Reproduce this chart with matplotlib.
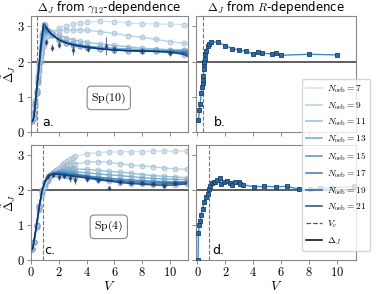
import numpy as np
import matplotlib
matplotlib.use("Agg")
import matplotlib.pyplot as plt
from matplotlib.lines import Line2D
from matplotlib.ticker import FuncFormatter

plt.rcParams['mathtext.fontset'] = 'cm'
plt.rcParams['font.family'] = ['DejaVu Sans']

# --- data -------------------------------------------------------------
N_oeb = [7, 9, 11, 13, 15, 17, 19, 21]

# Sp(10), gamma_12 dependence
V_a = [0.1, 0.2, 0.3, 0.4, 0.5, 0.6, 0.7, 0.8, 0.9, 1.0, 1.25, 1.5, 2.0, 2.5,
       3.0, 3.5, 4.0, 5.0, 6.0, 7.0, 8.0, 9.0, 10.0, 11.0, 11.3]
a_vals = [
    [0.38, 0.6, 0.9, 1.1, 1.4, 1.7, 2.0, 2.25, 2.45, 2.55, 2.72, 2.82, 2.95, 3.02, 3.06, 3.1, 3.12, 3.15, 3.13, 3.1, 3.08, 3.07, 3.06, 3.05, 3.04],
    [0.35, 0.55, 0.85, 1.1, 1.42, 1.75, 2.08, 2.35, 2.55, 2.66, 2.78, 2.84, 2.88, 2.9, 2.9, 2.9, 2.89, 2.85, 2.8, 2.74, 2.69, 2.63, 2.57, 2.52, 2.5],
    [0.33, 0.5, 0.82, 1.1, 1.45, 1.8, 2.15, 2.45, 2.65, 2.75, 2.8, 2.8, 2.75, 2.68, 2.62, 2.58, 2.55, 2.5, 2.46, 2.42, 2.38, 2.36, 2.34, 2.33, 2.33],
    [0.32, 0.45, 0.8, 1.12, 1.48, 1.85, 2.22, 2.55, 2.76, 2.84, 2.82, 2.76, 2.66, 2.58, 2.52, 2.48, 2.45, 2.41, 2.38, 2.36, 2.34, 2.33, 2.32, 2.32, 2.32],
    [0.3, 0.43, 0.78, 1.15, 1.52, 1.9, 2.3, 2.62, 2.85, 2.9, 2.85, 2.76, 2.62, 2.54, 2.48, 2.44, 2.41, 2.37, 2.34, 2.32, 2.31, 2.3, 2.3, 2.29, 2.29],
    [0.3, 0.42, 0.76, 1.16, 1.55, 1.95, 2.35, 2.7, 2.93, 2.95, 2.86, 2.76, 2.62, 2.53, 2.47, 2.43, 2.4, 2.36, 2.33, 2.31, 2.3, 2.29, 2.28, 2.26, 2.25],
    [0.3, 0.4, 0.75, 1.18, 1.58, 1.98, 2.4, 2.75, 3.0, 3.0, 2.88, 2.77, 2.62, 2.53, 2.48, 2.44, 2.41, 2.36, 2.33, 2.31, 2.3, 2.29, 2.27, 2.23, 2.2],
    [0.3, 0.4, 0.75, 1.2, 1.6, 2.0, 2.45, 2.8, 3.08, 3.05, 2.9, 2.78, 2.62, 2.54, 2.49, 2.45, 2.42, 2.37, 2.33, 2.31, 2.3, 2.29, 2.27, 2.2, 2.15],
]
a_err_V = [1.1, 1.5, 2.0, 3.0, 4.1, 5.4, 6.0, 8.0, 10.0]
a_err_y = [2.55, 2.4, 2.48, 2.33, 2.37, 2.45, 2.35, 2.3, 2.25]
a_err_e = [0.08, 0.1, 0.1, 0.15, 0.1, 0.25, 0.1, 0.08, 0.1]
Vc_top = 0.42

# Sp(4), gamma_12 dependence
V_c = [0.1, 0.2, 0.4, 0.6, 0.8, 1.0, 1.2, 1.4, 1.6, 1.8, 2.0, 2.2, 2.4, 2.6,
       2.8, 3.0, 3.2, 4.0, 4.8, 5.6, 6.4, 7.2, 8.0, 8.8, 9.6, 10.4, 11.2]
c_vals = [
    [0.3, 0.5, 0.93, 1.43, 1.85, 2.1, 2.27, 2.4, 2.5, 2.58, 2.65, 2.72, 2.78, 2.84, 2.89, 2.93, 2.97, 3.05, 3.08, 3.1, 3.1, 3.11, 3.11, 3.12, 3.12, 3.12, 3.13],
    [0.3, 0.5, 0.95, 1.47, 1.92, 2.15, 2.3, 2.42, 2.5, 2.55, 2.6, 2.64, 2.68, 2.71, 2.73, 2.75, 2.76, 2.8, 2.82, 2.8, 2.76, 2.72, 2.7, 2.67, 2.64, 2.61, 2.6],
    [0.3, 0.5, 0.97, 1.5, 1.95, 2.19, 2.34, 2.44, 2.5, 2.54, 2.57, 2.59, 2.6, 2.61, 2.61, 2.61, 2.61, 2.6, 2.57, 2.54, 2.52, 2.49, 2.45, 2.42, 2.4, 2.38, 2.36],
    [0.3, 0.5, 0.98, 1.52, 1.97, 2.21, 2.36, 2.45, 2.5, 2.53, 2.55, 2.56, 2.56, 2.56, 2.55, 2.54, 2.53, 2.5, 2.47, 2.44, 2.42, 2.39, 2.36, 2.34, 2.32, 2.31, 2.3],
    [0.3, 0.5, 1.0, 1.54, 1.99, 2.23, 2.37, 2.45, 2.49, 2.51, 2.52, 2.52, 2.51, 2.5, 2.49, 2.48, 2.47, 2.42, 2.38, 2.35, 2.32, 2.3, 2.28, 2.26, 2.25, 2.24, 2.24],
    [0.3, 0.5, 1.0, 1.55, 2.0, 2.24, 2.37, 2.45, 2.48, 2.49, 2.5, 2.49, 2.48, 2.47, 2.46, 2.45, 2.44, 2.4, 2.35, 2.31, 2.28, 2.26, 2.24, 2.23, 2.22, 2.22, 2.23],
    [0.3, 0.5, 1.0, 1.55, 2.0, 2.25, 2.38, 2.45, 2.47, 2.47, 2.47, 2.46, 2.45, 2.44, 2.43, 2.42, 2.41, 2.37, 2.32, 2.28, 2.25, 2.22, 2.2, 2.18, 2.18, 2.19, 2.21],
    [0.3, 0.5, 1.0, 1.55, 2.0, 2.25, 2.38, 2.44, 2.46, 2.46, 2.45, 2.44, 2.43, 2.42, 2.41, 2.4, 2.39, 2.35, 2.3, 2.26, 2.22, 2.19, 2.17, 2.15, 2.14, 2.15, 2.18],
]
c_err_V = [1.2, 1.6, 2.0, 2.4, 2.8, 3.2, 4.0, 4.8, 5.6, 6.4, 7.2, 8.0, 8.8, 9.6, 10.4]
c_err_y = [2.4, 2.45, 2.38, 2.42, 2.35, 2.3, 2.32, 2.28, 2.07, 2.25, 2.22, 2.2, 2.18, 2.12, 2.2]
c_err_e = [0.08, 0.06, 0.1, 0.08, 0.1, 0.12, 0.08, 0.07, 0.05, 0.06, 0.05, 0.06, 0.05, 0.05, 0.06]
Vc_bot = 0.83

# R dependence
b_V = [0.07, 0.14, 0.19, 0.27, 0.32, 0.36, 0.39, 0.41, 0.46, 0.48, 0.5, 0.53, 0.55,
       0.6, 0.72, 0.84, 0.96, 1.5, 2.0, 2.5, 3.0, 3.5, 4.0, 4.3, 4.6, 5.3, 5.6, 6.0, 8.0, 10.0]
b_y = [0.33, 0.62, 0.79, 1.11, 1.27, 1.40, 1.48, 1.59, 1.79, 1.93, 2.0, 2.07, 2.21,
       2.31, 2.45, 2.51, 2.57, 2.55, 2.45, 2.37, 2.33, 2.29, 2.22, 2.27, 2.24, 2.22, 2.24, 2.18, 2.21, 2.19]
d_V = [0.04, 0.07, 0.12, 0.19, 0.27, 0.36, 0.48, 0.6, 0.72, 0.79, 0.91, 1.03, 1.15, 1.27,
       1.39, 1.58, 1.7, 1.87, 2.11, 2.3, 2.47, 2.65, 2.94, 3.06, 3.26, 4.02, 4.78, 5.62,
       6.41, 7.25, 8.03, 8.8, 9.64, 11.19]
d_y = [0.0, 0.76, 1.0, 1.12, 1.30, 1.46, 1.65, 1.80, 1.90, 2.03, 2.12, 2.2, 2.24, 2.24,
       2.29, 2.34, 2.19, 2.24, 2.26, 2.21, 2.16, 2.24, 2.24, 2.19, 2.16, 2.10, 2.11, 2.10,
       2.11, 2.03, 2.03, 2.07, 2.07, 2.11]

# --- plotting ---------------------------------------------------------
colors = plt.cm.Blues(np.linspace(0.25, 1.0, len(N_oeb)))
line_alpha = 0.8
gray = '#888888'

fig = plt.figure(figsize=(3.8, 2.94), dpi=100)
ax_a = fig.add_axes([0.0816, 0.551, 0.413, 0.395])
ax_b = fig.add_axes([0.516, 0.551, 0.421, 0.395])
ax_c = fig.add_axes([0.0816, 0.116, 0.413, 0.391])
ax_d = fig.add_axes([0.516, 0.116, 0.421, 0.391])

intfmt = FuncFormatter(lambda v, p: '$%d$' % int(round(v)))


def gamma_panel(ax, V, vals, eV, ey, ee, Vc):
    # circles for the data, lines for the fits
    n = len(V) - 1 if V[-1] > 11.25 else len(V)
    for ys in vals:
        ax.plot(V[:n], ys[:n], ls='none', marker='o', ms=3.6, mfc='#b9c8da',
                mec='#7f97b4', mew=0.6, alpha=0.55, zorder=2)
    for col, ys in zip(colors, vals):
        ax.plot(V, ys, color=col, lw=1.0, alpha=line_alpha, zorder=3)
    ax.errorbar(eV, ey, yerr=ee, fmt='d', ms=2.0, color='#1d3f6e',
                elinewidth=0.8, capsize=0, alpha=0.7, zorder=4)
    ax.axvline(Vc, color='#777777', ls='--', lw=0.8, zorder=1)
    ax.axhline(2, color='#333333', lw=1.1, zorder=1)
    ax.set_xlim(0, 11.3)


def r_panel(ax, V, ys, Vc):
    ax.plot(V, ys, color='#3c8fd0', lw=1.0, marker='s', ms=3.2,
            mfc='#2a6aa8', mec='#173f66', mew=0.6, zorder=3)
    ax.axvline(Vc, color='#777777', ls='--', lw=0.8, zorder=1)
    ax.axhline(2, color='#333333', lw=1.1, zorder=1)
    ax.set_xlim(-0.1, 11.35)


gamma_panel(ax_a, V_a, a_vals, a_err_V, a_err_y, a_err_e, Vc_top)
gamma_panel(ax_c, V_c, c_vals, c_err_V, c_err_y, c_err_e, Vc_bot)
r_panel(ax_b, b_V, b_y, Vc_top)
r_panel(ax_d, d_V, d_y, Vc_bot)

for ax in (ax_a, ax_b, ax_c, ax_d):
    ax.set_ylim(0, 3.3)
    ax.set_yticks([0, 1, 2, 3])
    ax.set_xticks([0, 2, 4, 6, 8, 10])
    ax.xaxis.set_major_formatter(intfmt)
    ax.yaxis.set_major_formatter(intfmt)
    ax.tick_params(direction='out', length=3, width=0.7, color=gray,
                   labelsize=9, pad=1.5)
    for s in ax.spines.values():
        s.set_color(gray)
        s.set_linewidth(0.8)

for ax in (ax_a, ax_b):
    ax.tick_params(labelbottom=False)
for ax in (ax_b, ax_d):
    ax.tick_params(labelleft=False)
for ax in (ax_c, ax_d):
    ax.set_xlabel('$V$', fontsize=10, labelpad=0)
for ax in (ax_a, ax_c):
    ax.set_ylabel(r'$\tilde{\Delta}_J$', fontsize=9)
    ax.yaxis.set_label_coords(-0.085, 0.5)

ax_a.set_title(r'$\Delta_J$ from $\gamma_{12}$-dependence', fontsize=8.5, pad=3)
ax_b.set_title(r'$\Delta_J$ from $R$-dependence', fontsize=8.5, pad=3)

box = dict(boxstyle='round,pad=0.35', fc='white', ec=gray, lw=0.8)
ax_a.text(5.6, 0.97, r'$\mathrm{Sp}(10)$', fontsize=8.5, ha='center', va='center', bbox=box)
ax_c.text(5.6, 0.95, r'$\mathrm{Sp}(4)$', fontsize=8.5, ha='center', va='center', bbox=box)
ax_a.text(0.072, 0.05, 'a.', transform=ax_a.transAxes, fontsize=9)
ax_b.text(0.11, 0.05, 'b.', transform=ax_b.transAxes, fontsize=9)
ax_c.text(0.085, 0.05, 'c.', transform=ax_c.transAxes, fontsize=9)
ax_d.text(0.10, 0.05, 'd.', transform=ax_d.transAxes, fontsize=9)

handles = [Line2D([], [], color=c, lw=1.2, alpha=line_alpha) for c in colors]
labels = [r'$N_{\rm oeb} = %d$' % n for n in N_oeb]
handles += [Line2D([], [], color='#555555', ls='--', lw=0.9),
            Line2D([], [], color='black', lw=1.1)]
labels += ['$V_c$', r'$\Delta_J$']
fig.legend(handles, labels, loc='upper left', bbox_to_anchor=(0.795, 0.73),
           fontsize=6.8, framealpha=0.8, edgecolor='#cccccc', handlelength=1.7,
           labelspacing=0.55, borderpad=0.4, handletextpad=0.5, borderaxespad=0)

fig.savefig('out.png', dpi=100)
